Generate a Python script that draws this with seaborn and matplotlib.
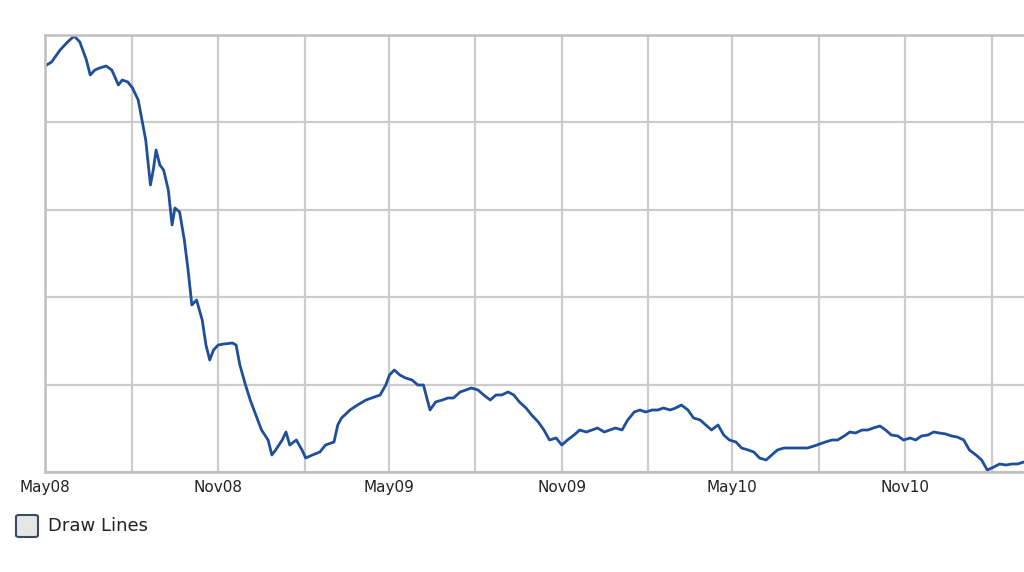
import matplotlib
matplotlib.use("Agg")
import matplotlib.pyplot as plt
import matplotlib.dates as mdates
from matplotlib.patches import FancyBboxPatch
import seaborn as sns
import pandas as pd

day_offsets = [0,7,16,24,31,37,44,48,53,58,65,71,78,82,88,93,99,103,107,112,115,118,122,126,131,135,138,143,148,152,156,161,167,171,175,179,184,190,199,203,207,213,218,224,230,237,241,245,252,256,260,267,273,277,284,292,298,307,311,315,324,332,341,347,356,362,366,371,377,383,390,396,402,409,415,422,428,434,441,447,453,460,466,473,479,485,492,498,504,511,517,524,530,536,543,549,555,562,568,575,581,587,594,600,606,613,619,626,632,638,645,651,657,664,670,676,683,689,696,702,708,715,721,727,734,740,747,753,759,766,772,778,785,791,798,804,810,817,823,829,836,842,849,855,861,868,874,880,887,893,899,906,912,919,925,931,938,944,950,957,963,969,976,982,989,995,1001,1008,1014,1021,1027,1033,1040]
pix_y = [66,62,50,42,36,42,60,75,70,68,66,70,85,80,82,88,100,120,140,185,170,150,165,170,190,225,208,212,240,270,305,300,320,345,360,350,345,344,343,345,365,385,400,415,430,440,455,450,440,432,445,440,450,458,455,452,445,442,425,418,410,405,400,398,395,385,375,370,375,378,380,385,385,410,402,400,398,398,392,390,388,390,395,400,395,395,392,395,402,408,415,422,430,440,438,445,440,435,430,432,430,428,432,430,428,430,420,412,410,412,410,410,408,410,408,405,410,418,420,425,430,425,435,440,442,448,450,452,458,460,455,450,448,448,448,448,448,446,444,442,440,440,436,432,433,430,430,428,426,430,435,436,440,438,440,436,435,432,433,434,436,437,440,450,455,460,470,467,464,465,464,464,462]
values = [472 - p for p in pix_y]
start = pd.Timestamp("2008-05-01")
dates = [start + pd.Timedelta(days=d) for d in day_offsets]
df = pd.DataFrame({"date": dates, "value": values})

sns.set_style("white")
plt.rcParams['font.family'] = ['DejaVu Sans']
fig = plt.figure(figsize=(10.24, 5.72), dpi=100)
ax = fig.add_axes([45/1024, 1-472/572, 1-45/1024, 437/572])
sns.lineplot(data=df, x="date", y="value", ax=ax, color="#1f4e9a", linewidth=2)
ax.set_xlim(start, start + pd.Timedelta(days=1040))
ax.set_ylim(0, 437)
ax.set_yticks([i*87.4 for i in range(6)])
ax.set_yticklabels([])
ax.xaxis.set_major_locator(mdates.MonthLocator(bymonth=[5, 11]))
ax.xaxis.set_minor_locator(mdates.MonthLocator(bymonth=[2, 8]))
ax.xaxis.set_major_formatter(mdates.DateFormatter("%b%y"))
ax.grid(True, which="both", color="#cccccc", linewidth=1.6)
ax.set_axisbelow(True)
ax.tick_params(axis="both", length=0, labelsize=11, colors="#222222", pad=6)
ax.set_xlabel(""); ax.set_ylabel("")
for s in ["left", "bottom", "top"]:
    ax.spines[s].set_color("#c0c0c0"); ax.spines[s].set_linewidth(1.8)
ax.spines["right"].set_visible(False)
box = FancyBboxPatch((16/1024, 1-537/572), 22/1024, 22/572, boxstyle="round,pad=0,rounding_size=0.003",
                     transform=fig.transFigure, facecolor="#e6e6e6", edgecolor="#3a4a66", linewidth=1.5)
fig.patches.append(box)
fig.text(48/1024, 1-526/572, "Draw Lines", fontsize=13, va="center", color="#222222")
fig.savefig("out.png", dpi=100)
